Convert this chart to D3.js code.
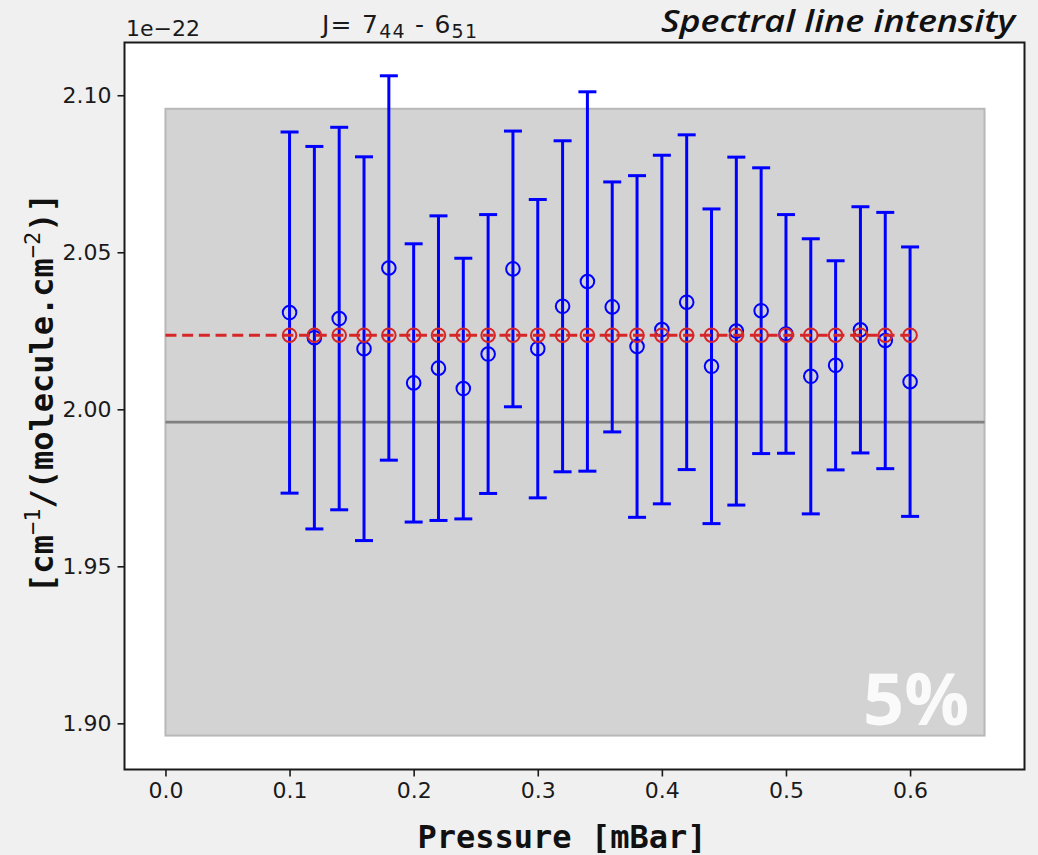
<!DOCTYPE html>
<html>
<head>
<meta charset="utf-8">
<title>Spectral line intensity</title>
<style>
  body { margin: 0; background: #f0f0f0; }
  svg { display: block; }
</style>
<script src="https://d3js.org/d3.v7.min.js"></script>
</head>
<body>
<svg id="chart" width="1038" height="855"></svg>
<script>
// values are in units of 1e-22 cm-1/(molecule.cm-2)
var pressure = [0.10, 0.12, 0.14, 0.16, 0.18, 0.20, 0.22, 0.24, 0.26, 0.28, 0.30, 0.32, 0.34,
                0.36, 0.38, 0.40, 0.42, 0.44, 0.46, 0.48, 0.50, 0.52, 0.54, 0.56, 0.58, 0.60];
var intensity = [2.0308, 2.0228, 2.0289, 2.0193, 2.0450, 2.0084, 2.0131, 2.0066, 2.0176, 2.0447, 2.0193, 2.0328, 2.0407,
                 2.0326, 2.0200, 2.0254, 2.0341, 2.0137, 2.0249, 2.0314, 2.0240, 2.0105, 2.0140, 2.0253, 2.0219, 2.0088];
var intensityErr = [0.0575, 0.0609, 0.0609, 0.0611, 0.0612, 0.0443, 0.0485, 0.0415, 0.0444, 0.0439, 0.0475, 0.0527, 0.0604,
                    0.0398, 0.0544, 0.0555, 0.0533, 0.0501, 0.0554, 0.0455, 0.0380, 0.0438, 0.0333, 0.0392, 0.0408, 0.0429];
var meanValue = 2.0236;      // red dashed line
var refValue = 1.9959;       // grey reference line
var bandPct = 5;             // +/- band around reference
var bandX = [0, 0.66];
var meanX = [0, 0.6];
var xTicks = [0.0, 0.1, 0.2, 0.3, 0.4, 0.5, 0.6];
var yTicks = [1.90, 1.95, 2.00, 2.05, 2.10];

var svg = d3.select("#chart");
var m = {left: 124.5, right: 1024.5, top: 42.5, bottom: 769.5};

var x = d3.scaleLinear().domain([-0.033, 0.6922]).range([m.left, m.right]);
var y = d3.scaleLinear().domain([1.8853, 2.1168]).range([m.bottom, m.top]);

svg.append("rect")
  .attr("x", m.left).attr("y", m.top)
  .attr("width", m.right - m.left).attr("height", m.bottom - m.top)
  .attr("fill", "#fff");

// 5% band
var bandLo = refValue * (1 - bandPct / 100), bandHi = refValue * (1 + bandPct / 100);
svg.append("rect")
  .attr("x", x(bandX[0])).attr("y", y(bandHi))
  .attr("width", x(bandX[1]) - x(bandX[0])).attr("height", y(bandLo) - y(bandHi))
  .attr("fill", "#d3d3d3").attr("stroke", "#b8b8b8").attr("stroke-width", 2);

svg.append("line")
  .attr("x1", x(bandX[0])).attr("x2", x(bandX[1]))
  .attr("y1", y(refValue)).attr("y2", y(refValue))
  .attr("stroke", "#808080").attr("stroke-width", 2.7);

// error bars
var pts = pressure.map(function(p, i) { return {p: p, v: intensity[i], e: intensityErr[i]}; });
var eb = svg.append("g").attr("stroke", "#0000ff").attr("stroke-width", 3).attr("fill", "none");
pts.forEach(function(d) {
  eb.append("line").attr("x1", x(d.p)).attr("x2", x(d.p)).attr("y1", y(d.v - d.e)).attr("y2", y(d.v + d.e));
  eb.append("line").attr("x1", x(d.p) - 9).attr("x2", x(d.p) + 9).attr("y1", y(d.v + d.e)).attr("y2", y(d.v + d.e));
  eb.append("line").attr("x1", x(d.p) - 9).attr("x2", x(d.p) + 9).attr("y1", y(d.v - d.e)).attr("y2", y(d.v - d.e));
});
svg.append("g").selectAll("circle").data(pts).join("circle")
  .attr("cx", function(d) { return x(d.p); })
  .attr("cy", function(d) { return y(d.v); })
  .attr("r", 6.8).attr("fill", "none").attr("stroke", "#0000ff").attr("stroke-width", 2);

// mean line + markers
svg.append("line")
  .attr("x1", x(meanX[0])).attr("x2", x(meanX[1]))
  .attr("y1", y(meanValue)).attr("y2", y(meanValue))
  .attr("stroke", "#d62728").attr("stroke-width", 3)
  .attr("stroke-dasharray", "11,5.7");
svg.append("g").selectAll("circle").data(pressure).join("circle")
  .attr("cx", function(d) { return x(d); })
  .attr("cy", y(meanValue))
  .attr("r", 6.8).attr("fill", "none").attr("stroke", "#d62728").attr("stroke-width", 2);

svg.append("text")
  .attr("x", 969).attr("y", 725)
  .attr("text-anchor", "end")
  .attr("font-family", "Open Sans").attr("font-weight", "bold").attr("font-size", 72)
  .attr("fill", "#fafafa")
  .text(bandPct + "%");

// frame
svg.append("rect")
  .attr("x", m.left).attr("y", m.top)
  .attr("width", m.right - m.left).attr("height", m.bottom - m.top)
  .attr("fill", "none").attr("stroke", "#1a1a1a").attr("stroke-width", 2);

// axes
var xAxis = svg.append("g").attr("transform", "translate(0," + m.bottom + ")")
  .call(d3.axisBottom(x).tickValues(xTicks).tickSize(7).tickPadding(6).tickFormat(d3.format(".1f")));
var yAxis = svg.append("g").attr("transform", "translate(" + m.left + ",0)")
  .call(d3.axisLeft(y).tickValues(yTicks).tickSize(7).tickPadding(6).tickFormat(d3.format(".2f")));
[xAxis, yAxis].forEach(function(a) {
  a.select(".domain").remove();
  a.selectAll(".tick line").attr("stroke", "#1a1a1a").attr("stroke-width", 1.6);
  a.selectAll(".tick text").attr("font-family", "DejaVu Sans").attr("font-size", 22).attr("fill", "#1a1a1a");
});

// labels
svg.append("text")
  .attr("x", 562).attr("y", 848)
  .attr("text-anchor", "middle")
  .attr("font-family", "DejaVu Sans Mono").attr("font-weight", "bold").attr("font-size", 32)
  .attr("fill", "#111")
  .text("Pressure [mBar]");

var yl = svg.append("text")
  .attr("transform", "translate(53,393) rotate(-90)")
  .attr("text-anchor", "middle")
  .attr("font-family", "DejaVu Sans Mono").attr("font-weight", "bold").attr("font-size", 32)
  .attr("fill", "#111");
yl.append("tspan").text("[cm");
yl.append("tspan").attr("dy", -13).attr("font-size", 22).attr("font-weight", "normal").text("\u22121");
yl.append("tspan").attr("dy", 13).text("/(molecule.cm");
yl.append("tspan").attr("dy", -13).attr("font-size", 22).attr("font-weight", "normal").text("\u22122");
yl.append("tspan").attr("dy", 13).text(")]");

svg.append("text")
  .attr("x", 126).attr("y", 36)
  .attr("font-family", "DejaVu Sans").attr("font-size", 22).attr("fill", "#1a1a1a")
  .text("1e\u221222");

var jt = svg.append("text")
  .attr("x", 322).attr("y", 33)
  .attr("textLength", 155).attr("lengthAdjust", "spacing")
  .attr("font-family", "DejaVu Sans").attr("font-size", 25).attr("fill", "#1a1a1a");
jt.append("tspan").text("J= 7");
jt.append("tspan").attr("dy", 5).attr("font-size", 19).text("44");
jt.append("tspan").attr("dy", -5).text(" - 6");
jt.append("tspan").attr("dy", 5).attr("font-size", 19).text("51");

svg.append("text")
  .attr("x", 1015).attr("y", 32)
  .attr("text-anchor", "end")
  .attr("textLength", 354).attr("lengthAdjust", "spacingAndGlyphs")
  .attr("font-family", "Open Sans").attr("font-style", "italic").attr("font-weight", 600).attr("font-size", 30)
  .attr("fill", "#111")
  .text("Spectral line intensity");
</script>
</body>
</html>
